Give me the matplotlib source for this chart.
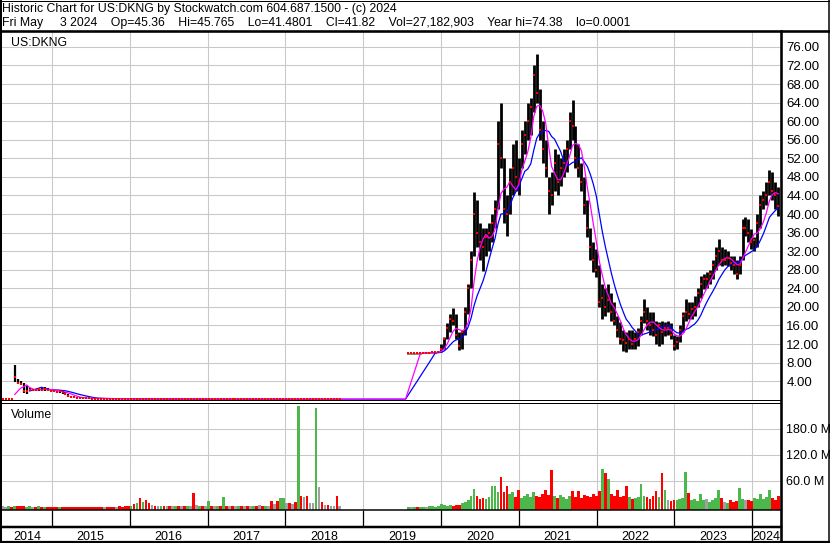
import numpy as np
import pandas as pd
import matplotlib
matplotlib.use("Agg")
import matplotlib.pyplot as plt
from matplotlib.lines import Line2D

plt.rcParams['font.family'] = ['Liberation Sans', 'DejaVu Sans']

W, H = 830, 543  # picture size in pixels

# ---- data (biweekly samples) ----
# 2014 - 2018: old listing, price close to zero after 2015
old_start = "2014-05-16"
old_close = [0.20, 0.20, 0.21, 0.20, 5.0, 3.7, 3.5, 1.8, 2.0, 2.2, 2.2, 2.1, 2.3, 2.2,
             2.4, 2.2, 2.0, 1.9, 1.7, 1.8, 1.6, 1.3, 0.9, 0.6, 0.5, 0.45, 0.38, 0.33,
             0.30, 0.29, 0.28, 0.27, 0.26, 0.25, 0.25, 0.24, 0.23, 0.22, 0.22, 0.21, 0.20, 0.19, 0.18,
             0.19, 0.18, 0.19, 0.18, 0.19, 0.18, 0.17, 0.17,
             0.16, 0.16, 0.17, 0.16, 0.16, 0.15, 0.15, 0.16, 0.15, 0.15, 0.14, 0.15, 0.15,
             0.13, 0.13, 0.14, 0.13, 0.13, 0.15, 0.14, 0.14, 0.15, 0.14, 0.16,
             0.15, 0.15, 0.14, 0.14, 0.15, 0.14, 0.14, 0.13, 0.13, 0.14, 0.13, 0.13, 0.12, 0.13, 0.13,
             0.11, 0.11, 0.10, 0.12, 0.14, 0.14, 0.13, 0.13, 0.12, 0.16, 0.14, 0.14, 0.12, 0.12,
             0.12, 0.15, 0.15, 0.14, 0.14, 0.13, 0.13, 0.13, 0.11, 0.11]
# high / low only where the bars are visible (first months)
old_high = [0.20, 0.20, 0.22, 0.21, 7.4, 4.4, 4.1, 3.6, 2.9, 2.5, 2.4, 2.4, 2.5, 2.5,
            2.7, 2.5, 2.3, 2.2, 2.0, 2.0, 1.9, 1.6, 1.3, 0.9, 0.7, 0.6, 0.5, 0.4]
old_low = [0.20, 0.20, 0.20, 0.20, 3.8, 3.3, 3.1, 1.5, 1.3, 1.8, 2.0, 1.9, 1.9, 1.9,
           2.0, 1.9, 1.8, 1.6, 1.5, 1.5, 1.3, 1.0, 0.7, 0.5, 0.4, 0.35, 0.3, 0.25]
old_vol = [1.0, 0.8, 1.2, 0.9, 2.5,
           1.2, 1.0, 1.5, 0.8, 1.0, 0.7, 0.9, 1.1, 0.8, 0.6, 0.9, 0.7,
           0.8, 0.6, 0.7, 0.9, 0.6, 0.8, 0.7, 0.5, 0.9, 0.6, 0.8, 0.7, 0.6, 0.5, 0.8, 0.7,
           0.6, 0.9, 0.5, 0.7, 0.6, 0.8, 1.2, 0.9, 1.5, 2.0,
           3, 6, 10, 21, 12, 16, 8, 4,
           2, 1.5, 3, 1, 2, 1.5, 1, 2.5, 1, 1.5, 2, 1, 1.5,
           33, 4, 2, 3, 2, 14, 2, 1, 3, 2, 23,
           2, 1, 3, 1.5, 2, 1, 2.5, 1, 3, 1.5, 2, 4, 1.5, 3, 2,
           14, 6, 14, 21, 21, 8, 10, 6, 12, 233, 26, 23, 26, 10, 8, 228, 46, 12,
           5, 5, 3, 2, 26, 1]

# Aug 2019 - May 2024
new_start = "2019-08-02"
new_high = [10.1, 10.1, 10.1, 10.1, 10.1, 10.2, 10.2, 10.2, 10.3, 10.4, 10.6,
            12.0, 13.5, 16.5, 18.5, 19.8, 18.5, 14.5, 15.0, 20.0, 25.0, 32.0, 44.7, 43.0, 38.0,
            37.0, 37.0, 38.0, 40.0, 43.0, 60.0, 64.0, 52.0, 44.0, 50.0, 55.0, 56.0, 52.0,
            58.0, 60.0, 64.0, 65.0, 72.0, 74.4, 67.0, 60.0, 56.0, 48.0, 49.0, 54.0, 53.0,
            52.0, 54.0, 56.0, 62.0, 64.5, 59.0, 55.0, 51.0, 48.0, 43.0, 37.0, 34.0, 32.5,
            29.0, 25.0, 24.0, 25.0, 23.0, 21.0, 18.0, 16.7, 15.0, 14.5, 15.0, 15.0, 14.5,
            15.5, 18.0, 21.6, 20.0, 19.0, 18.8, 17.0, 16.7, 17.0, 16.7, 17.0, 16.5, 14.0,
            13.7, 16.0, 19.0, 21.6, 21.0, 21.0, 22.3, 24.0, 26.6, 27.0, 27.5, 28.0, 30.0,
            33.0, 34.6, 33.0, 32.4, 32.0, 31.0, 31.0, 30.0, 31.0, 39.0, 39.3, 39.0, 36.7,
            35.0, 40.0, 44.0, 45.0, 47.0, 49.5, 49.0, 47.0, 45.8]
new_low = [9.9, 9.9, 9.95, 9.9, 9.95, 10.0, 10.0, 10.05, 10.1, 10.1, 10.2,
           10.2, 11.0, 13.0, 14.5, 16.0, 13.0, 10.8, 11.0, 14.0, 18.5, 24.0, 31.0, 33.0, 30.0,
           27.7, 31.0, 32.0, 34.0, 37.0, 41.0, 50.0, 38.0, 35.2, 40.0, 44.0, 45.0, 44.0,
           50.0, 53.0, 56.0, 57.0, 62.0, 64.0, 56.0, 51.0, 48.0, 40.0, 42.0, 45.0, 44.0,
           46.0, 48.0, 49.0, 54.0, 56.0, 50.0, 48.0, 45.0, 40.0, 35.0, 30.0, 27.5, 26.5,
           20.0, 17.3, 18.0, 19.0, 17.0, 16.0, 13.5, 12.0, 10.5, 10.2, 11.0, 11.0, 11.0,
           11.5, 14.0, 16.5, 15.0, 14.0, 13.7, 12.0, 11.5, 12.0, 13.7, 14.0, 13.0, 10.8,
           11.0, 12.5, 14.5, 17.0, 17.3, 17.5, 18.0, 20.0, 22.0, 23.8, 24.0, 25.0, 26.0,
           28.0, 29.0, 28.8, 29.0, 28.8, 28.0, 27.0, 26.0, 27.0, 30.0, 35.2, 34.0, 32.4,
           32.0, 33.0, 37.0, 41.0, 42.0, 44.0, 43.0, 41.0, 39.5]
new_close = [10.0, 10.0, 10.05, 10.0, 10.05, 10.1, 10.1, 10.15, 10.2, 10.3, 10.4,
             11.0, 13.0, 15.5, 17.5, 17.0, 14.0, 11.5, 14.5, 19.0, 24.0, 30.0, 40.0, 36.0, 34.0,
             33.0, 35.0, 36.0, 38.0, 41.0, 55.0, 52.0, 41.0, 40.0, 47.0, 50.0, 48.0, 47.0,
             55.0, 57.0, 60.0, 63.0, 70.0, 66.0, 58.0, 54.0, 50.0, 45.0, 44.0, 51.0, 47.0,
             50.0, 51.0, 54.0, 60.0, 59.0, 52.0, 50.0, 47.0, 42.0, 37.0, 33.0, 30.0, 28.0,
             21.0, 22.0, 20.0, 21.5, 19.0, 17.0, 15.0, 13.0, 12.8, 12.3, 13.0, 12.0, 13.0,
             14.5, 17.0, 19.0, 17.0, 16.0, 15.0, 14.0, 16.0, 14.5, 15.5, 15.5, 14.0, 11.5,
             12.5, 15.0, 18.0, 19.0, 18.5, 19.5, 20.0, 23.0, 25.0, 26.0, 26.0, 27.0, 29.0,
             31.0, 32.0, 30.0, 30.0, 30.5, 29.5, 29.0, 27.0, 29.0, 37.0, 37.0, 36.0, 34.0,
             34.5, 38.0, 42.0, 43.0, 44.0, 47.0, 45.0, 44.0, 41.82]
new_vol = [0.5, 0.4, 0.6, 0.5, 0.8, 0.6, 0.7, 1.0, 1.2, 0.8, 1.5,
           6, 4, 3, 4, 3, 5, 4, 8, 12, 15, 24, 42, 26, 18,
           20, 18, 22, 47, 47, 34, 69, 34, 47, 30, 34, 22, 38,
           20, 25, 30, 22, 34, 25, 22, 30, 40, 28, 86, 25, 20,
           28, 22, 18, 25, 36, 22, 36, 20, 28, 25, 22, 30, 25,
           36, 88, 78, 65, 30, 25, 40, 22, 25, 47, 22, 18, 20,
           22, 53, 25, 22, 18, 25, 36, 22, 78, 38, 15, 14, 16,
           15, 18, 20, 80, 32, 15, 18, 14, 30, 15, 18, 12, 15,
           20, 40, 20, 12, 10, 15, 12, 14, 44, 18, 15, 16, 14,
           20, 18, 30, 18, 22, 38, 20, 16, 26]

header1 = "Historic Chart for US:DKNG by Stockwatch.com 604.687.1500 - (c) 2024"
header2 = ("Fri May     3 2024    Op=45.36    Hi=45.765    Lo=41.4801    Cl=41.82    "
           "Vol=27,182,903    Year hi=74.38    lo=0.0001")
years = list(range(2014, 2025))
price_ticks = [4, 8, 12, 16, 20, 24, 28, 32, 36, 40, 44, 48, 52, 56, 60, 64, 68, 72, 76]
vol_ticks = [60, 120, 180]
vol_tick_labels = ["60.0 M", "120.0 M", "180.0 M"]

# ---- build series ----
old_dates = pd.date_range(old_start, periods=len(old_close), freq="14D")
new_dates = pd.date_range(new_start, periods=len(new_close), freq="14D")
dates = old_dates.append(new_dates)
close = np.array(old_close + new_close)
vol = np.array(old_vol + new_vol)
s = pd.Series(close, index=dates)
ma_fast = s.rolling(5).mean()
ma_slow = s.rolling(10).mean()

# hold the averages flat over the 2018-2019 gap with no trading
hold = pd.DatetimeIndex([new_dates[0] - pd.Timedelta(days=14)])
ma_fast = ma_fast.reindex(dates.append(hold)).sort_index().ffill()
ma_slow = ma_slow.reindex(dates.append(hold)).sort_index().ffill()

diff = np.diff(close, prepend=close[0])
GREEN, RED, GREY = "#4cb84c", "#ff0000", "#a0a0a0"
vcolors = np.where(diff > 0, GREEN, np.where(diff < 0, RED, GREY))

x_left, x_right = pd.Timestamp("2014-05-12"), pd.Timestamp("2024-05-11")
year_starts = [pd.Timestamp(f"{y}-01-01") for y in years[1:]]


def rect(x0, y0, x1, y1):
    return [x0 / W, 1 - y1 / H, (x1 - x0) / W, (y1 - y0) / H]


def hline(fig, y, x0, x1, px=1.0):
    fig.add_artist(Line2D([x0 / W, x1 / W], [1 - y / H, 1 - y / H],
                          transform=fig.transFigure, color="black", lw=px * 0.72))


def vline(fig, x, y0, y1, px=1.0):
    fig.add_artist(Line2D([x / W, x / W], [1 - y0 / H, 1 - y1 / H],
                          transform=fig.transFigure, color="black", lw=px * 0.72))


fig = plt.figure(figsize=(W / 100, H / 100), dpi=100)
fig.patch.set_facecolor("white")

# price panel
ax = fig.add_axes(rect(2, 32, 780, 400.5))
ax.vlines(old_dates[:len(old_high)], old_low, old_high, color="black", lw=1.6, zorder=2)
ax.vlines(new_dates, new_low, new_high, color="black", lw=2.0, zorder=2)
ax.plot(ma_slow.index, ma_slow.values, color="#0000ff", lw=0.9, zorder=3)
ax.plot(ma_fast.index, ma_fast.values, color="#ff00ff", lw=0.9, zorder=3)
ax.plot(dates, close, "s", color="red", ms=2.0, mew=0, zorder=4)
ax.set_xlim(x_left, x_right)
ax.set_ylim(-0.15, 79.2)
ax.set_xticks(year_starts)
ax.set_yticks(price_ticks)
ax.set_yticklabels([f"{t:.2f}" for t in price_ticks])
ax.yaxis.tick_right()
ax.tick_params(axis="y", length=0, pad=4.5, labelsize=9.5)
ax.tick_params(axis="x", length=0, labelbottom=False)
ax.grid(True, color="#c8c8c8", lw=0.75)
ax.set_axisbelow(True)
for sp in ax.spines.values():
    sp.set_visible(False)
ax.text(9 / 778, 1 - 13.5 / 368.5, "US:DKNG", transform=ax.transAxes,
        fontsize=8.8, va="baseline", ha="left")

# volume panel
axv = fig.add_axes(rect(2, 403, 780, 509.5))
vmin, vmax = -6, 239
axv.bar(dates, vol - vmin, bottom=vmin, width=13, color=vcolors, linewidth=0, zorder=2)
axv.set_xlim(x_left, x_right)
axv.set_ylim(vmin, vmax)
axv.set_xticks(year_starts)
axv.set_yticks(vol_ticks)
axv.set_yticklabels(vol_tick_labels)
axv.yaxis.tick_right()
axv.tick_params(axis="y", length=0, pad=4.0, labelsize=9.0)
axv.tick_params(axis="x", length=0, labelbottom=False)
axv.grid(True, color="#c8c8c8", lw=0.75)
axv.set_axisbelow(True)
for sp in axv.spines.values():
    sp.set_visible(False)
axv.text(9 / 778, 1 - 15 / 106.5, "Volume", transform=axv.transAxes,
         fontsize=8.8, va="baseline", ha="left")

# date strip and year labels
axs = fig.add_axes(rect(2, 509.5, 780, 527))
axs.set_xlim(x_left, x_right)
axs.set_ylim(0, 1)
axs.vlines(year_starts, 0, 1, color="black", lw=0.9)
axs.axis("off")

axy = fig.add_axes(rect(2, 527, 780, 542))
axy.set_xlim(x_left, x_right)
axy.set_ylim(0, 1)
axy.axis("off")
bounds = [x_left] + year_starts + [x_right]
for yr, a, b in zip(years, bounds[:-1], bounds[1:]):
    axy.text(a + (b - a) / 2, 0.12, str(yr), ha="center", va="baseline", fontsize=9)
axy.vlines([year_starts[-1]], 0, 1, color="black", lw=0.9)

# header
fig.text(2 / W, 1 - 11.8 / H, header1, fontsize=8.8, va="baseline", ha="left")
fig.text(2 / W, 1 - 26.4 / H, header2, fontsize=8.8, va="baseline", ha="left")

# frame lines
hline(fig, 0.5, 0, W)
hline(fig, 541.8, 0, W, 2.2)
vline(fig, 0.8, 0, H, 2)
vline(fig, 829, 0, H, 1.5)
hline(fig, 30.8, 0, W, 2.6)
vline(fig, 781.3, 31, H, 2.6)
hline(fig, 400.4, 0, 781)
hline(fig, 402.6, 0, 781)
hline(fig, 510, 0, 781, 1.5)
hline(fig, 527, 0, 781, 2.5)

fig.savefig("out.png", dpi=100)
